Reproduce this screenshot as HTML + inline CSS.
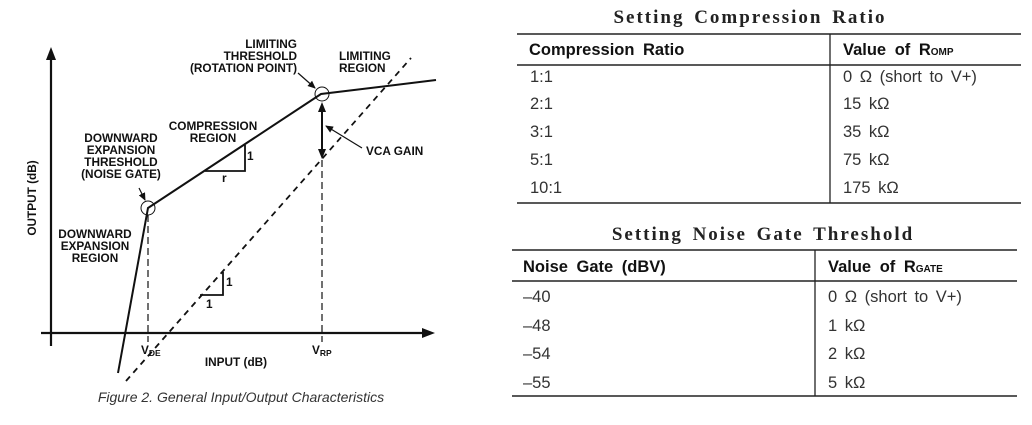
<!DOCTYPE html>
<html><head><meta charset="utf-8"><style>
html,body{margin:0;padding:0;background:#fff;width:1032px;height:425px;overflow:hidden}
svg{display:block}
.b{font-family:"Liberation Sans",Arial,sans-serif;font-weight:bold;font-size:11.8px;fill:#111}
.s{font-family:"Liberation Serif",serif;font-weight:bold;font-size:19px;fill:#222;letter-spacing:2px;word-spacing:3px}
.h{font-family:"Liberation Sans",sans-serif;font-weight:bold;font-size:16.5px;fill:#111;word-spacing:4px}
.r{font-family:"Liberation Sans",sans-serif;font-size:16.5px;fill:#333;word-spacing:3px}
</style></head><body>
<svg width="1032" height="425" viewBox="0 0 1032 425">
<defs>
<marker id="a" markerWidth="8" markerHeight="8" refX="7" refY="4" orient="auto" markerUnits="userSpaceOnUse"><path d="M0,0.5 L8,4 L0,7.5z" fill="#111"/></marker>
</defs>
<g stroke="#111" fill="none">
<line x1="51" y1="346" x2="51" y2="58" stroke-width="2.2"/>
<path d="M51,47 L46,60 L56,60z" fill="#111" stroke="none"/>
<line x1="41" y1="333" x2="424" y2="333" stroke-width="2.2"/>
<path d="M435,333 L422,328 L422,338z" fill="#111" stroke="none"/>
<polyline points="118,373 148,208 321,94 436,80" stroke-width="2"/>
<line x1="126" y1="381" x2="411" y2="58" stroke-width="1.8" stroke-dasharray="6,5"/>
<line x1="148" y1="215" x2="148" y2="342" stroke-width="1.2" stroke-dasharray="7,4"/>
<line x1="322" y1="160" x2="322" y2="342" stroke-width="1.2" stroke-dasharray="7,4"/>
<circle cx="148" cy="208" r="7" stroke-width="1"/>
<circle cx="322" cy="94" r="7" stroke-width="1"/>
<line x1="322" y1="106" x2="322" y2="156" stroke-width="2"/>
<path d="M322,102 L318,112 L326,112z M322,159 L318,149 L326,149z" fill="#111" stroke="none"/>
<line x1="362" y1="148" x2="326" y2="126" stroke-width="1.2" marker-end="url(#a)"/>
<line x1="298" y1="73" x2="315" y2="88" stroke-width="1.2" marker-end="url(#a)"/>
<line x1="139" y1="188" x2="145" y2="200" stroke-width="1.2" marker-end="url(#a)"/>
<polyline points="205,171 245,171 245,145" stroke-width="1.8"/>
<polyline points="200,295 223,295 223,272" stroke-width="1.8"/>
</g>
<g class="b">
<text x="297" y="48" text-anchor="end">LIMITING</text>
<text x="297" y="60" text-anchor="end">THRESHOLD</text>
<text x="297" y="72" text-anchor="end">(ROTATION POINT)</text>
<text x="339" y="60">LIMITING</text>
<text x="339" y="72">REGION</text>
<text x="213" y="130" text-anchor="middle">COMPRESSION</text>
<text x="213" y="142" text-anchor="middle">REGION</text>
<text x="121" y="142" text-anchor="middle">DOWNWARD</text>
<text x="121" y="154" text-anchor="middle">EXPANSION</text>
<text x="121" y="166" text-anchor="middle">THRESHOLD</text>
<text x="121" y="178" text-anchor="middle">(NOISE GATE)</text>
<text x="95" y="238" text-anchor="middle">DOWNWARD</text>
<text x="95" y="250" text-anchor="middle">EXPANSION</text>
<text x="95" y="262" text-anchor="middle">REGION</text>
<text x="366" y="155">VCA GAIN</text>
<text x="247" y="160">1</text>
<text x="222" y="182">r</text>
<text x="226" y="286">1</text>
<text x="206" y="308">1</text>
<text x="236" y="366" text-anchor="middle">INPUT (dB)</text>
<text x="141" y="354">V<tspan font-size="8.5" dy="2">DE</tspan></text>
<text x="312" y="354">V<tspan font-size="8.5" dy="2">RP</tspan></text>
<text transform="translate(36,198) rotate(-90)" text-anchor="middle">OUTPUT (dB)</text>
</g>
<text x="241" y="402" text-anchor="middle" font-family="Liberation Sans,sans-serif" font-style="italic" font-size="14" fill="#333">Figure 2. General Input/Output Characteristics</text>

<text class="s" x="750" y="23" text-anchor="middle">Setting Compression Ratio</text>
<g stroke="#222">
<line x1="517" y1="34" x2="1021" y2="34" stroke-width="1.6"/>
<line x1="517" y1="65" x2="1021" y2="65" stroke-width="1.6"/>
<line x1="517" y1="203" x2="1021" y2="203" stroke-width="1.6"/>
<line x1="830" y1="34" x2="830" y2="203" stroke-width="1.3"/>
<line x1="512" y1="250" x2="1017" y2="250" stroke-width="1.6"/>
<line x1="512" y1="281" x2="1017" y2="281" stroke-width="1.6"/>
<line x1="512" y1="396" x2="1017" y2="396" stroke-width="1.6"/>
<line x1="815" y1="250" x2="815" y2="396" stroke-width="1.3"/>
</g>
<text class="h" x="529" y="55">Compression Ratio</text>
<text class="h" x="843" y="55">Value of R<tspan font-size="10">OMP</tspan></text>
<g class="r">
<text x="530" y="82">1:1</text><text x="843" y="82">0 Ω (short to V+)</text>
<text x="530" y="109">2:1</text><text x="843" y="109">15 kΩ</text>
<text x="530" y="137">3:1</text><text x="843" y="137">35 kΩ</text>
<text x="530" y="165">5:1</text><text x="843" y="165">75 kΩ</text>
<text x="530" y="193">10:1</text><text x="843" y="193">175 kΩ</text>
</g>
<text class="s" x="763" y="240" text-anchor="middle">Setting Noise Gate Threshold</text>
<text class="h" x="523" y="272">Noise Gate (dBV)</text>
<text class="h" x="828" y="272">Value of R<tspan font-size="10">GATE</tspan></text>
<g class="r">
<text x="523" y="302">–40</text><text x="828" y="302">0 Ω (short to V+)</text>
<text x="523" y="331">–48</text><text x="828" y="331">1 kΩ</text>
<text x="523" y="359">–54</text><text x="828" y="359">2 kΩ</text>
<text x="523" y="388">–55</text><text x="828" y="388">5 kΩ</text>
</g>
</svg>
</body></html>
